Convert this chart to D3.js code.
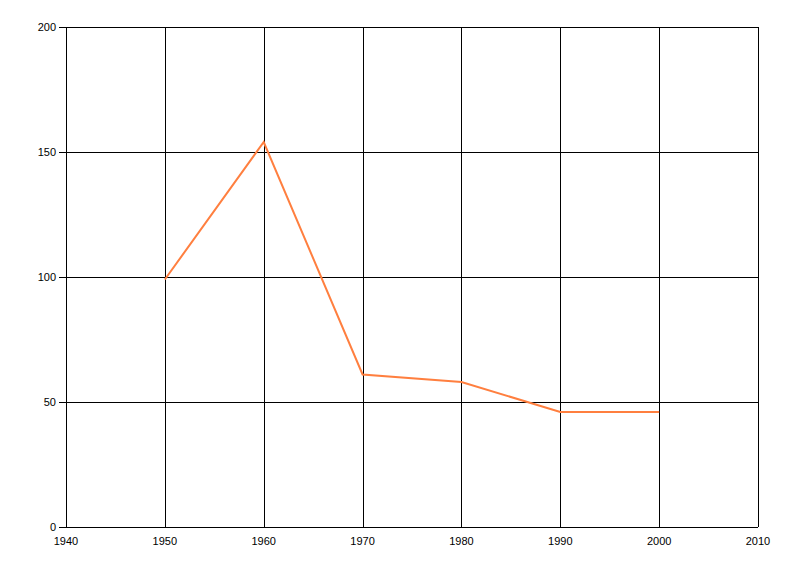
<!DOCTYPE html>
<html><head><meta charset="utf-8">
<script src="https://cdn.jsdelivr.net/npm/d3@7"></script>
<style>body{margin:0;background:#fff}svg{display:block}text{font-family:"Liberation Sans",Arial,sans-serif;font-size:11px;fill:#000}</style>
</head><body><svg id="c" width="800" height="576"></svg>
<script>
const years = [1950, 1960, 1970, 1980, 1990, 2000];
const values = [99, 154, 61, 58, 46, 46];
const xTicks = [1940, 1950, 1960, 1970, 1980, 1990, 2000, 2010];
const yTicks = [0, 50, 100, 150, 200];

const svg = d3.select("#c");
const L = 66, R = 758, T = 27, B = 527;
const x = d3.scaleLinear().domain([1940, 2010]).range([L, R]);
const y = d3.scaleLinear().domain([0, 200]).range([B, T]);

const g = svg.append("g");
g.selectAll("line.v").data(xTicks).join("line")
  .attr("x1", d => Math.round(x(d)) + 0.5).attr("x2", d => Math.round(x(d)) + 0.5)
  .attr("y1", T).attr("y2", B).attr("stroke", "#000");
g.selectAll("line.h").data(yTicks).join("line")
  .attr("x1", L - 7).attr("x2", R)
  .attr("y1", d => Math.round(y(d)) + 0.5).attr("y2", d => Math.round(y(d)) + 0.5).attr("stroke", "#000");

g.selectAll("text.y").data(yTicks).join("text")
  .attr("x", L - 10).attr("y", d => y(d) + 4).attr("text-anchor", "end").text(d => d);
g.selectAll("text.x").data(xTicks).join("text")
  .attr("x", d => x(d)).attr("y", B + 18).attr("text-anchor", "middle").text(d => d);

const line = d3.line().x((d, i) => x(years[i])).y(d => y(d));
svg.append("path").datum(values).attr("d", line)
  .attr("fill", "none").attr("stroke", "#FF7F3F").attr("stroke-width", 2);
</script></body></html>
